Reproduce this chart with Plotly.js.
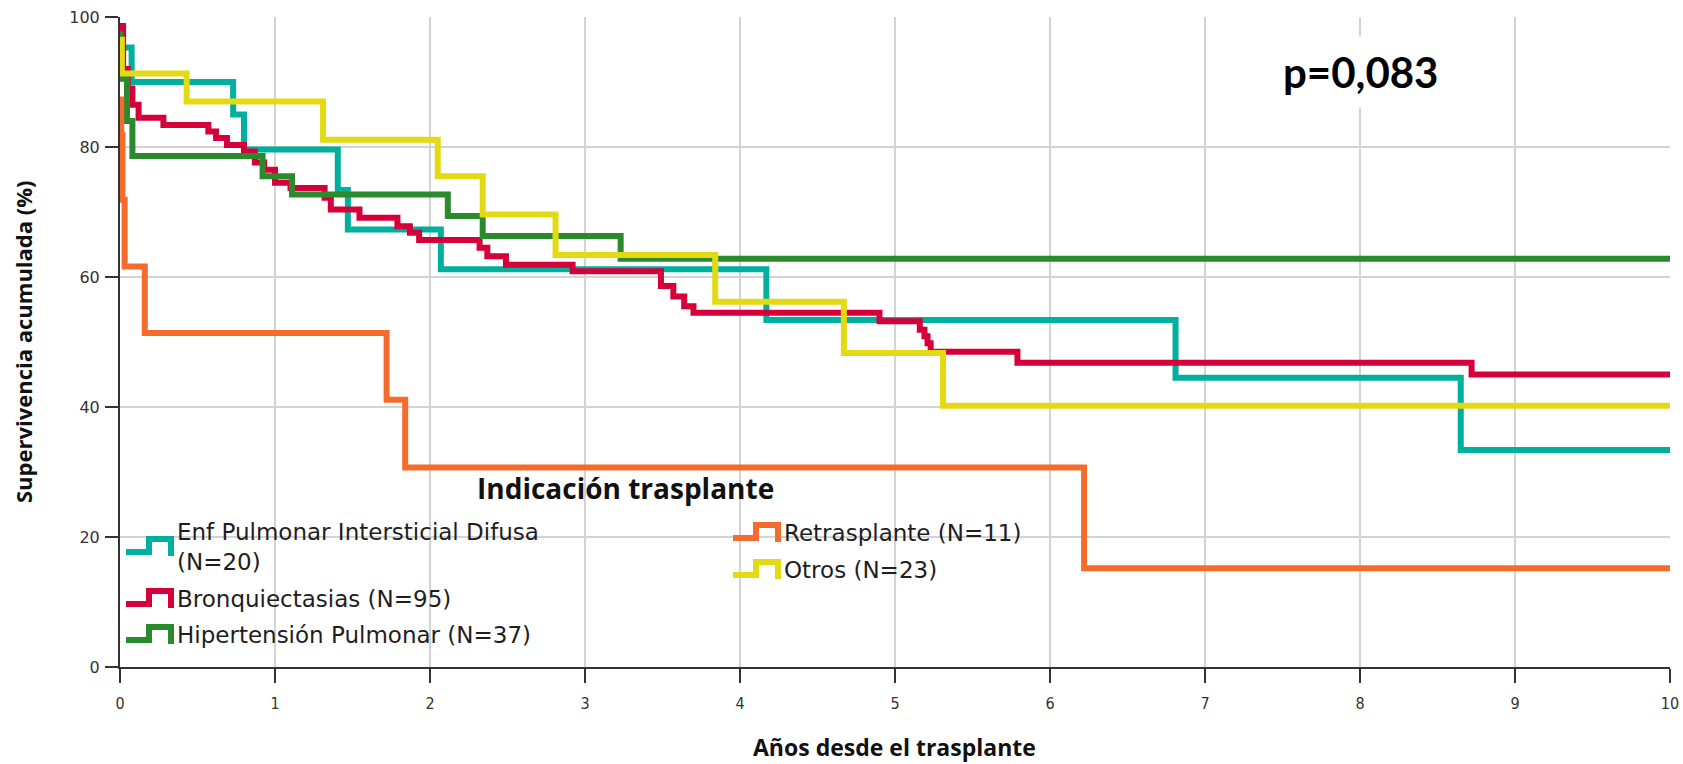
<!DOCTYPE html>
<html>
<head>
<meta charset="utf-8">
<script src="https://cdn.plot.ly/plotly-3.0.1.min.js"></script>
<style>
  html, body { margin: 0; padding: 0; background: #ffffff; }
  #chart { width: 1683px; height: 764px; }
</style>
</head>
<body>
<div id="chart"></div>
<script>
// ---- Data ----
const seriesNames = [
  "Enf Pulmonar Intersticial Difusa<br>(N=20)",
  "Bronquiectasias (N=95)",
  "Hipertensión Pulmonar (N=37)",
  "Retrasplante (N=11)",
  "Otros (N=23)"
];
const seriesColors = ["#00b09e", "#d5003a", "#2b8a2b", "#f36c2e", "#e4da14"];
const legendTitle = "Indicación trasplante";
const pValueText = "p=0,083";

// years since transplant (step start) and cumulative survival (%)
const tEnf  = [0, 0.075, 0.73, 0.80, 1.405, 1.47, 2.07, 4.17, 6.81, 8.65, 10];
const sEnf  = [95.3, 90.0, 85.0, 79.6, 73.4, 67.3, 61.2, 53.4, 44.5, 33.4, 33.4];

const tBronq = [0, 0.02, 0.05, 0.08, 0.12, 0.28, 0.57, 0.62, 0.69, 0.80, 0.87, 0.93, 1.00, 1.10, 1.32, 1.36, 1.545, 1.79, 1.87, 1.93, 2.32, 2.37, 2.49, 2.92, 3.49, 3.57, 3.64, 3.70, 4.90, 5.16, 5.19, 5.21, 5.23, 5.79, 8.72, 10];
const sBronq = [98.6, 92.0, 89.0, 86.5, 84.5, 83.4, 82.4, 81.4, 80.3, 79.3, 77.6, 76.5, 74.5, 73.7, 72.2, 70.4, 69.1, 67.8, 66.8, 65.7, 64.5, 63.2, 61.9, 60.9, 58.6, 57.0, 55.5, 54.5, 53.2, 51.9, 50.9, 49.8, 48.5, 46.8, 45.0, 45.0];

const tHip = [0, 0.005, 0.045, 0.08, 0.92, 1.11, 2.115, 2.34, 3.23, 10];
const sHip = [97.3, 90.5, 84.0, 78.6, 75.5, 72.7, 69.4, 66.3, 62.8, 62.8];

const tRetr = [0, 0.008, 0.016, 0.03, 0.16, 1.72, 1.84, 6.22, 10];
const sRetr = [87.3, 81.8, 71.9, 61.6, 51.4, 41.1, 30.7, 15.2, 15.2];

const tOtros = [0, 0.012, 0.43, 1.31, 2.05, 2.34, 2.81, 3.84, 4.67, 5.31, 10];
const sOtros = [96.5, 91.3, 87.0, 81.1, 75.5, 69.6, 63.4, 56.2, 48.3, 40.2, 40.2];

const xTicks = [0, 1, 2, 3, 4, 5, 6, 7, 8, 9, 10];
const yTicks = [0, 20, 40, 60, 80, 100];

const xs = [tEnf, tBronq, tHip, tRetr, tOtros];
const ys = [sEnf, sBronq, sHip, sRetr, sOtros];

const traces = seriesNames.map((name, i) => ({
  type: "scatter",
  mode: "lines",
  x: xs[i],
  y: ys[i],
  name: name,
  showlegend: false,
  line: { shape: "hv", width: 6, color: seriesColors[i] },
  hoverinfo: "skip"
}));

// ---- Layout geometry (pixels of the 1683x764 page) ----
const W = 1683, H = 764;
const M = { l: 120, r: 13, t: 17, b: 97 };
const plotW = W - M.l - M.r, plotH = H - M.t - M.b;
const px2x = px => (px - M.l) / plotW;          // page px -> paper x
const py2y = py => (H - M.b - py) / plotH;      // page px -> paper y

// custom step-shaped legend (key icon + label), two columns
const legendItems = [
  { col: 0, cy: 547 }, { col: 0, cy: 599 }, { col: 0, cy: 635 },
  { col: 1, cy: 533 }, { col: 1, cy: 570 }
];
const colIconX = [126, 733];
const colTextX = [176, 783];

const shapes = [];
const annotations = [];
legendItems.forEach((it, i) => {
  const x0 = colIconX[it.col];
  const c = it.cy;
  const path = "M" + px2x(x0) + "," + py2y(c + 5) +
               " L" + px2x(x0 + 23) + "," + py2y(c + 5) +
               " L" + px2x(x0 + 23) + "," + py2y(c - 8) +
               " L" + px2x(x0 + 45) + "," + py2y(c - 8) +
               " L" + px2x(x0 + 45) + "," + py2y(c + 9);
  shapes.push({
    type: "path", xref: "paper", yref: "paper", path: path,
    line: { color: seriesColors[i], width: 6 }
  });
  annotations.push({
    text: seriesNames[i],
    xref: "paper", yref: "paper",
    x: px2x(colTextX[it.col]), y: py2y(c),
    xanchor: "left", yanchor: "middle", align: "left",
    showarrow: false, borderpad: 0,
    font: { family: "DejaVu Sans", size: 23, color: "#1e1e1e" }
  });
});

annotations.push(
  {
    text: "<b>" + pValueText + "</b>",
    xref: "x", yref: "y", x: 8.0, y: 91.6,
    xanchor: "center", yanchor: "middle",
    showarrow: false,
    bgcolor: "#ffffff",
    borderpad: 10,
    font: { family: "Lato", size: 42, color: "#000000" }
  },
  {
    text: "<b>" + legendTitle + "</b>",
    xref: "paper", yref: "paper", x: px2x(625), y: py2y(488),
    xanchor: "center", yanchor: "middle",
    showarrow: false,
    font: { family: "Open Sans", size: 28, color: "#111111" }
  },
  {
    text: "<b>Supervivencia acumulada (%)</b>",
    xref: "paper", yref: "paper", x: px2x(23), y: 0.5,
    xanchor: "center", yanchor: "middle",
    textangle: -90,
    showarrow: false,
    font: { family: "Open Sans", size: 22, color: "#111111" }
  },
  {
    text: "<b>Años desde el trasplante</b>",
    xref: "paper", yref: "paper", x: px2x(894), y: py2y(764),
    xanchor: "center", yanchor: "bottom",
    showarrow: false, borderpad: 0,
    font: { family: "Open Sans", size: 23, color: "#111111" }
  }
);

const layout = {
  width: W,
  height: H,
  margin: M,
  paper_bgcolor: "#ffffff",
  plot_bgcolor: "#ffffff",
  showlegend: false,
  xaxis: {
    range: [0, 10],
    tickvals: xTicks,
    ticktext: xTicks.map(String),
    showgrid: true,
    gridcolor: "#d3d3d3",
    gridwidth: 2,
    zeroline: false,
    showline: true,
    linecolor: "#333333",
    linewidth: 2,
    ticks: "outside",
    ticklen: 14,
    tickwidth: 1.5,
    tickcolor: "#333333",
    ticklabelstandoff: 7,
    tickfont: { family: "DejaVu Sans Condensed, DejaVu Sans", size: 16, color: "#333333" }
  },
  yaxis: {
    range: [0, 100],
    tickvals: yTicks,
    ticktext: yTicks.map(String),
    showgrid: true,
    gridcolor: "#d3d3d3",
    gridwidth: 2,
    zeroline: false,
    showline: true,
    linecolor: "#333333",
    linewidth: 2,
    ticks: "outside",
    ticklen: 13,
    tickwidth: 1.5,
    tickcolor: "#333333",
    ticklabelstandoff: 2,
    tickfont: { family: "DejaVu Sans", size: 16, color: "#333333" }
  },
  shapes: shapes,
  annotations: annotations
};

Plotly.newPlot("chart", traces, layout, { displayModeBar: false, staticPlot: true });
</script>
</body>
</html>
